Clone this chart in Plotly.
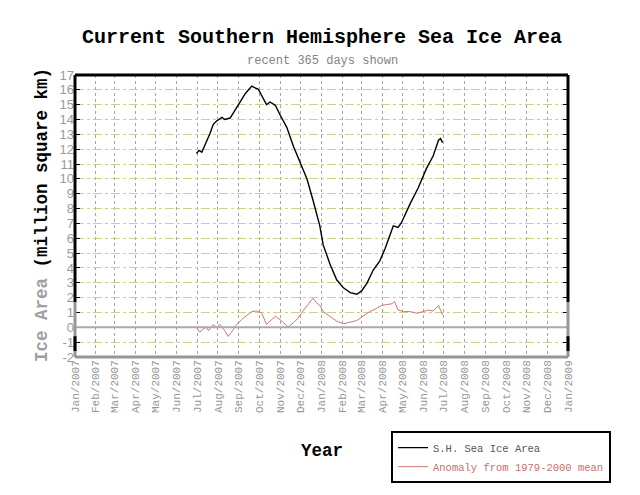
import plotly.graph_objects as go

# Sea ice area (million km^2)
area_dates = ["2007-06-30","2007-07-04","2007-07-08","2007-07-13","2007-07-20","2007-07-25","2007-07-30",
    "2007-08-07","2007-08-11","2007-08-19","2007-08-26","2007-09-03","2007-09-10","2007-09-15","2007-09-20",
    "2007-09-25","2007-09-30","2007-10-05","2007-10-12","2007-10-17","2007-10-25","2007-11-01","2007-11-11",
    "2007-11-21","2007-12-01","2007-12-11","2007-12-20","2007-12-30","2008-01-04","2008-01-14","2008-01-24",
    "2008-02-03","2008-02-13","2008-02-23","2008-03-01","2008-03-09","2008-03-18","2008-03-28","2008-04-05",
    "2008-04-17","2008-04-24","2008-04-29","2008-05-12","2008-05-24","2008-06-05","2008-06-15","2008-06-23",
    "2008-06-26","2008-06-29"]
area_values = [11.71,11.92,11.80,12.29,13.04,13.68,13.90,
    14.15,14.00,14.10,14.64,15.18,15.71,15.99,16.25,
    16.14,16.03,15.60,15.00,15.18,14.96,14.32,13.47,
    12.18,11.11,9.99,8.54,6.84,5.55,4.27,3.20,
    2.66,2.34,2.23,2.45,2.98,3.84,4.48,5.33,
    6.84,6.73,7.05,8.33,9.40,10.69,11.54,12.61,
    12.71,12.44]

# Anomaly from 1979-2000 mean (million km^2)
anom_dates = ["2007-06-30","2007-07-05","2007-07-10","2007-07-15","2007-07-18","2007-07-25","2007-07-30",
    "2007-08-04","2007-08-11","2007-08-16","2007-08-21","2007-08-29","2007-09-05","2007-09-13","2007-09-20",
    "2007-09-27","2007-10-05","2007-10-12","2007-10-20","2007-10-25","2007-11-01","2007-11-08","2007-11-13",
    "2007-11-21","2007-11-28","2007-12-06","2007-12-13","2007-12-20","2007-12-25","2007-12-30","2008-01-04",
    "2008-01-14","2008-01-24","2008-02-03","2008-02-13","2008-02-23","2008-03-03","2008-03-13","2008-03-23",
    "2008-03-31","2008-04-07","2008-04-15","2008-04-19","2008-04-24","2008-05-02","2008-05-12","2008-05-22",
    "2008-05-31","2008-06-08","2008-06-15","2008-06-23","2008-06-26","2008-06-29"]
anom_values = [0.0,-0.33,-0.12,0.0,-0.23,0.20,0.0,
    0.20,-0.23,-0.61,-0.33,0.20,0.52,0.84,1.06,
    1.10,0.95,0.20,0.52,0.74,0.52,0.20,0.03,
    0.31,0.63,1.16,1.59,1.96,1.65,1.48,1.06,
    0.74,0.42,0.24,0.37,0.46,0.74,1.06,1.27,
    1.48,1.53,1.59,1.74,1.16,1.06,1.06,0.95,
    1.06,1.16,1.10,1.48,1.16,0.84]

y_ticks = list(range(-2, 18))
x_range = ["2007-01-01", "2009-01-01"]

mono = "Liberation Mono"

fig = go.Figure()
fig.add_trace(go.Scatter(x=area_dates, y=area_values, mode="lines",
    line=dict(color="black", width=1.4),
    name='<span style="color:#555555">S.H. Sea Ice Area</span>'))
fig.add_trace(go.Scatter(x=anom_dates, y=anom_values, mode="lines",
    line=dict(color="rgb(205,120,120)", width=1),
    name='<span style="color:rgb(200,110,110)">Anomaly from 1979-2000 mean</span>'))

shapes = []
# zero line
shapes.append(dict(type="line", xref="paper", yref="y", x0=0, x1=1, y0=0, y1=0,
                   line=dict(color="rgb(170,170,170)", width=2)))
# frame
for xp in (0, 1):
    shapes.append(dict(type="line", xref="paper", yref="y", x0=xp, x1=xp, y0=-2, y1=1.7,
                       line=dict(color="rgb(150,150,150)", width=3)))
    shapes.append(dict(type="line", xref="paper", yref="y", x0=xp, x1=xp, y0=1.7, y1=17,
                       line=dict(color="black", width=3)))
    shapes.append(dict(type="line", xref="paper", yref="y", x0=xp, x1=xp, y0=-1.6, y1=-0.6,
                       line=dict(color="black", width=3)))
shapes.append(dict(type="line", xref="paper", yref="paper", x0=0, x1=1, y0=1, y1=1,
                   line=dict(color="black", width=3)))
shapes.append(dict(type="line", xref="paper", yref="paper", x0=0, x1=1, y0=0, y1=0,
                   line=dict(color="rgb(150,150,150)", width=3)))

fig.update_layout(
    width=640, height=495,
    margin=dict(l=75, r=72, t=75, b=124),
    paper_bgcolor="white", plot_bgcolor="white",
    showlegend=True,
    legend=dict(x=0.641, y=-0.263, xanchor="left", yanchor="top",
                bordercolor="black", borderwidth=2, bgcolor="white",
                font=dict(family=mono, size=10.5), tracegroupgap=0),
    shapes=shapes,
    annotations=[
        dict(text="<b>Current Southern Hemisphere Sea Ice Area</b>", xref="paper", yref="paper",
             x=(322-75)/493, y=(371-36)/296, showarrow=False, xanchor="center", yanchor="middle",
             font=dict(family=mono, size=20, color="black")),
        dict(text="recent 365 days shown", xref="paper", yref="paper",
             x=(322-75)/493, y=(371-60)/296, showarrow=False, xanchor="center", yanchor="middle",
             font=dict(family=mono, size=12, color="rgb(130,130,130)")),
        dict(text='<b><span style="color:rgb(160,160,160)">Ice Area</span> (million square km)</b>',
             xref="paper", yref="paper", x=(42-75)/493, y=(371-222)/296, textangle=-90,
             showarrow=False, xanchor="center", yanchor="middle",
             font=dict(family=mono, size=17.5, color="black")),
        dict(text="<b>Year</b>", xref="paper", yref="paper", x=(322-75)/493, y=(371-470)/296,
             showarrow=False, xanchor="center", yanchor="middle",
             font=dict(family=mono, size=17.5, color="black")),
    ],
)

fig.update_xaxes(range=x_range, type="date", dtick="M1", tick0="2007-01-01",
                 tickformat="%b/%Y", tickangle=-90,
                 tickfont=dict(family=mono, size=11, color="rgb(150,150,150)"),
                 showgrid=True, gridcolor="rgb(165,165,165)", griddash="dot", gridwidth=1,
                 showline=False, zeroline=False, ticks="")
fig.update_yaxes(range=[-2, 17], tickvals=y_ticks, ticktext=[str(v) for v in y_ticks],
                 tickfont=dict(family="Liberation Sans", size=13, color="rgb(155,155,155)"),
                 showgrid=True, gridcolor="rgb(210,205,140)", griddash="dashdot", gridwidth=1,
                 showline=False, zeroline=False, ticks="inside", ticklen=5,
                 tickcolor="black", mirror="ticks")

fig.write_html("out.html")
